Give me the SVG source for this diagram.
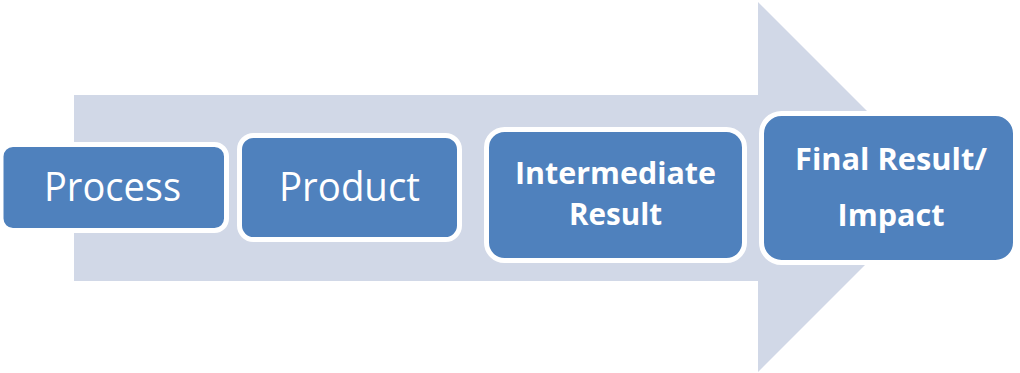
<svg xmlns="http://www.w3.org/2000/svg" width="1020" height="373" viewBox="0 0 1020 373">
<style>
.box{fill:#4F81BD;stroke:#FFFFFF;stroke-width:5}
.t{fill:#FFFFFF;font-family:"Open Sans","Noto Sans","Liberation Sans",sans-serif;text-anchor:middle}
.r{font-size:41px}
.b{font-size:31px;font-weight:bold}
</style>
<rect width="1020" height="373" fill="#FFFFFF"/>
<g id="connectors">
<polygon points="74,95 758,95 758,2 943,187 758,372 758,281 74,281" fill="#D1D8E7"/>
</g>
<g id="process">
<rect class="box" x="1" y="144.5" width="225.5" height="86" rx="12"/>
<text class="t r" x="112.5" y="201" textLength="137" lengthAdjust="spacingAndGlyphs">Process</text>
</g>
<g id="product">
<rect class="box" x="239.5" y="135.5" width="220" height="104" rx="14"/>
<text class="t r" x="349.5" y="201" textLength="141" lengthAdjust="spacingAndGlyphs">Product</text>
</g>
<g id="intermediate">
<rect class="box" x="486.5" y="129.5" width="258" height="131" rx="18"/>
<text class="t b" x="615.5" y="184" textLength="201" lengthAdjust="spacingAndGlyphs">Intermediate</text>
<text class="t b" x="615.5" y="225" textLength="93" lengthAdjust="spacingAndGlyphs">Result</text>
</g>
<g id="final">
<rect class="box" x="761.5" y="113.5" width="254" height="149" rx="20"/>
<text class="t b" x="891" y="170" textLength="192" lengthAdjust="spacingAndGlyphs">Final Result/</text>
<text class="t b" x="891" y="226" textLength="107" lengthAdjust="spacingAndGlyphs">Impact</text>
</g>
</svg>
